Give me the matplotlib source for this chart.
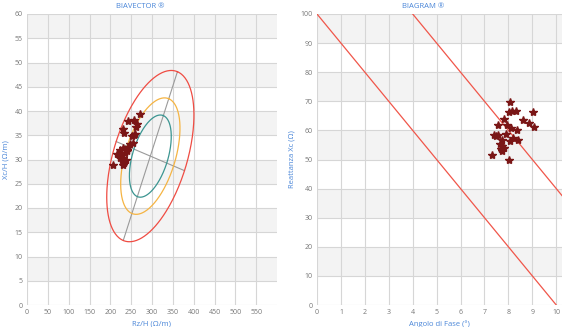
import numpy as np
import matplotlib
matplotlib.use('Agg')
import matplotlib.pyplot as plt

plt.rcParams['font.family'] = ['Open Sans', 'DejaVu Sans']

# === DATA ===
# BIAVECTOR points (Rz/H, Xc/H)
rz_h = [272, 243, 257, 265, 262, 231, 232, 260, 251, 256, 255, 246, 243, 223,
        230, 217, 226, 236, 241, 231, 222, 228, 237, 233, 207, 231, 240, 224]
xc_h = [39.4, 38.0, 38.2, 37.4, 36.6, 36.3, 35.5, 35.3, 34.8, 35.0, 33.3, 33.1,
        32.5, 31.9, 32.3, 31.1, 31.0, 31.4, 31.7, 30.4, 30.3, 29.8, 30.0, 29.3,
        28.8, 28.8, 32.0, 30.8]

# BIAGRAM points (phase angle, Xc)
phase = [8.08, 8.01, 8.15, 8.30, 9.04, 7.83, 8.62, 8.85, 7.58, 7.93, 9.07, 8.11,
         8.34, 7.41, 7.58, 7.90, 8.20, 7.74, 8.07, 8.39, 7.72, 7.80, 7.68, 7.74,
         7.30, 8.02, 7.48, 7.65]
xc = [69.7, 66.2, 66.5, 66.5, 66.2, 64.0, 63.5, 62.7, 61.9, 61.9, 61.2, 60.7,
      60.3, 58.3, 58.5, 58.6, 57.3, 56.7, 56.4, 56.8, 54.6, 53.9, 53.6, 52.9,
      51.6, 50.0, 58.0, 55.2]

# tolerance ellipses (reference population): centre and 95% conjugate semi-diameters
ell_center = (296, 30.7)
ell_major = (65, 17.4)
ell_minor = (82, -3.0)
ell_levels = [1.0, 0.68, 0.48]   # 95%, 75%, 50%
ell_colors = ['#ef4c43', '#f5b443', '#3b9591']

# biagram reference lines: Xc = intercept - 10 * phase
line_intercepts = [100, 140]
line_slope = -10

blue = '#4a86d8'
tick_col = '#777777'
band_col = '#f3f3f3'
grid_col = '#d6d6d6'
star_col = '#7a1616'

fig = plt.figure(figsize=(5.62, 3.27), dpi=100)
ax1 = fig.add_axes([27 / 562, 1 - 305 / 327, 250 / 562, 291 / 327])
ax2 = fig.add_axes([317 / 562, 1 - 305 / 327, 245 / 562, 291 / 327])


def style(ax, xticks, yticks, band):
    for s in ax.spines.values():
        s.set_visible(False)
    for lo in yticks[:-1]:
        if (lo // band) % 2 == 1:
            ax.axhspan(lo, lo + band, color=band_col, zorder=0, lw=0)
    # grid drawn by hand so it sits above the bands
    for v in xticks:
        ax.axvline(v, color=grid_col, lw=0.8, zorder=1)
    for v in yticks:
        ax.axhline(v, color=grid_col, lw=0.8, zorder=1)
    ax.tick_params(length=0, labelsize=5, colors=tick_col, pad=3)


# === LEFT: BIAVECTOR ===
xt1 = list(range(0, 551, 50))
yt1 = list(range(0, 61, 5))
ax1.set_xlim(0, 600)
ax1.set_ylim(0, 60)
ax1.set_xticks(xt1)
ax1.set_yticks(yt1)
style(ax1, xt1, yt1, 5)

t = np.linspace(0, 2 * np.pi, 300)
cx, cy = ell_center
for k, col in zip(ell_levels, ell_colors):
    ex = cx + k * (np.cos(t) * ell_major[0] + np.sin(t) * ell_minor[0])
    ey = cy + k * (np.cos(t) * ell_major[1] + np.sin(t) * ell_minor[1])
    ax1.plot(ex, ey, color=col, lw=0.9, zorder=3)
for v in (ell_major, ell_minor):
    ax1.plot([cx - v[0], cx + v[0]], [cy - v[1], cy + v[1]],
             color='#9a9a9a', lw=0.8, zorder=2)

ax1.plot(rz_h, xc_h, '*', color=star_col, ms=6, mec=star_col, zorder=4)
fig.text(140 / 562, 1 - 7 / 327, 'BIAVECTOR ®', fontsize=5.5, color=blue,
         ha='center', va='center')
ax1.set_xlabel('Rz/H (Ω/m)', fontsize=5.5, color=blue, labelpad=3)
ax1.set_ylabel('Xc/H (Ω/m)', fontsize=5.5, color=blue, labelpad=4)

# === RIGHT: BIAGRAM ===
xt2 = list(range(0, 11))
yt2 = list(range(0, 101, 10))
ax2.set_xlim(0, 10.24)
ax2.set_ylim(0, 100)
ax2.set_xticks(xt2)
ax2.set_yticks(yt2)
style(ax2, xt2, yt2, 10)

xs = np.linspace(0, 10.24, 50)
for b in line_intercepts:
    ax2.plot(xs, b + line_slope * xs, color='#f0564a', lw=0.9, zorder=3)

ax2.plot(phase, xc, '*', color=star_col, ms=6, mec=star_col, zorder=4)
fig.text(423 / 562, 1 - 7 / 327, 'BIAGRAM ®', fontsize=5.5, color=blue,
         ha='center', va='center')
ax2.set_xlabel('Angolo di Fase (°)', fontsize=5.5, color=blue, labelpad=3)
ax2.set_ylabel('Reattanza Xc (Ω)', fontsize=5.5, color=blue, labelpad=4)

fig.savefig('out.png', dpi=100)
